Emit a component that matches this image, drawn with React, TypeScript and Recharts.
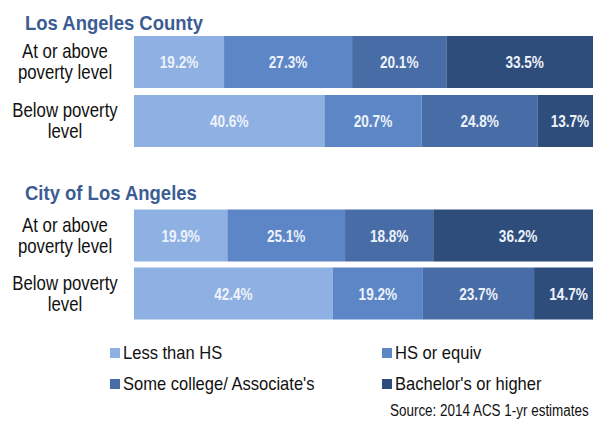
import React from "react";
import { BarChart, Bar, XAxis, YAxis, LabelList, Legend } from "recharts";

// education levels (series) and their colours
const levels = ["Less than HS", "HS or equiv", "Some college/ Associate's", "Bachelor's or higher"];
const levelKeys = ["lessHS", "hsEquiv", "someCollege", "bachelors"];
const colors = ["#8eb0e2", "#5c86c6", "#476ca6", "#2f4d7a"];

// row categories
const rowLabels = ["At or above\npoverty level", "Below poverty\nlevel"];

// Los Angeles County
const countyAbove = [19.2, 27.3, 20.1, 33.5];
const countyBelow = [40.6, 20.7, 24.8, 13.7];

// City of Los Angeles
const cityAbove = [19.9, 25.1, 18.8, 36.2];
const cityBelow = [42.4, 19.2, 23.7, 14.7];

const groupTitles = ["Los Angeles County", "City of Los Angeles"];
const sourceNote = "Source: 2014 ACS 1-yr estimates";

const toRows = (above: number[], below: number[]) =>
  [above, below].map((vals, i) => {
    const row: any = { row: rowLabels[i] };
    levelKeys.forEach((k, j) => (row[k] = vals[j]));
    return row;
  });

const countyData = toRows(countyAbove, countyBelow);
const cityData = toRows(cityAbove, cityBelow);

const FONT = "'Liberation Sans', Arial, sans-serif";

const RowTick = (props: any) => {
  const { y, payload } = props;
  const lines = String(payload.value).split("\n");
  return (
    <g transform={`translate(65,${y}) scale(0.84,1)`}>
      <text textAnchor="middle" fontSize={20} fill="#111" fontFamily={FONT}>
        <tspan x={0} dy={-4}>{lines[0]}</tspan>
        <tspan x={0} dy={21}>{lines[1]}</tspan>
      </text>
    </g>
  );
};

const SegLabel = (props: any) => {
  const { x, y, width, height, value } = props;
  const cx = x + width / 2;
  const cy = y + height / 2;
  return (
    <g transform={`translate(${cx},${cy}) scale(0.8,1)`}>
      <text
        textAnchor="middle"
        dominantBaseline="central"
        fontSize={17}
        fontWeight="bold"
        fill="#eef3fb"
        fontFamily={FONT}
      >
        {`${value}%`}
      </text>
    </g>
  );
};

const LegendGrid = (props: any) => {
  const entries = [...(props.payload || [])].sort(
    (a: any, b: any) => levels.indexOf(a.value) - levels.indexOf(b.value)
  );
  const colX = [110, 382];
  return (
    <div style={{ position: "relative", width: 601, height: 60 }}>
      {entries.map((entry: any, i: number) => (
        <div
          key={entry.value}
          style={{
            position: "absolute",
            left: colX[i % 2],
            top: Math.floor(i / 2) * 31,
            height: 20,
            display: "flex",
            alignItems: "center",
          }}
        >
          <span style={{ width: 10, height: 10, background: entry.color, marginRight: 3 }} />
          <span
            style={{
              fontSize: 19,
              fontFamily: FONT,
              color: "#111",
              transform: "scaleX(0.87)",
              transformOrigin: "left center",
              whiteSpace: "nowrap",
            }}
          >
            {entry.value}
          </span>
        </div>
      ))}
    </div>
  );
};

const bars = () =>
  levelKeys.map((k, j) => (
    <Bar
      key={k}
      dataKey={k}
      name={levels[j]}
      stackId="edu"
      fill={colors[j]}
      barSize={52}
      isAnimationActive={false}
    >
      <LabelList dataKey={k} content={<SegLabel />} />
    </Bar>
  ));

const Title = ({ text, top }: { text: string; top: number }) => (
  <div
    style={{
      position: "absolute",
      left: 25,
      top,
      fontSize: 21,
      lineHeight: "21px",
      fontWeight: "bold",
      color: "#3b5d93",
      fontFamily: FONT,
      transform: "scaleX(0.88)",
      transformOrigin: "left center",
      whiteSpace: "nowrap",
    }}
  >
    {text}
  </div>
);

export default function App() {
  return (
    <div
      style={{
        position: "relative",
        width: 601,
        height: 427,
        margin: -8,
        overflow: "hidden",
        background: "#fff",
        fontFamily: FONT,
      }}
    >
      <Title text={groupTitles[0]} top={12} />
      <Title text={groupTitles[1]} top={182} />

      <div style={{ position: "absolute", left: 0, top: 0 }}>
        <BarChart
          width={603}
          height={160}
          layout="vertical"
          data={countyData}
          margin={{ top: 32, right: 0, bottom: 10, left: 0 }}
          barCategoryGap={3}
        >
          <XAxis type="number" domain={[0, 100]} hide allowDataOverflow />
          <YAxis
            type="category"
            dataKey="row"
            width={134}
            axisLine={false}
            tickLine={false}
            tick={<RowTick />}
          />
          {bars()}
        </BarChart>
      </div>

      <div style={{ position: "absolute", left: 0, top: 175 }}>
        <BarChart
          width={603}
          height={252}
          layout="vertical"
          data={cityData}
          margin={{ top: 31.5, right: 0, bottom: 104.5, left: 0 }}
          barCategoryGap={3}
        >
          <XAxis type="number" domain={[0, 100]} hide allowDataOverflow />
          <YAxis
            type="category"
            dataKey="row"
            width={134}
            axisLine={false}
            tickLine={false}
            tick={<RowTick />}
          />
          {bars()}
          <Legend
            layout="horizontal"
            verticalAlign="middle"
            align="center"
            wrapperStyle={{ top: 168, left: 0, width: 601 }}
            content={<LegendGrid />}
          />
        </BarChart>
      </div>

      <div
        style={{
          position: "absolute",
          left: 390,
          top: 403,
          fontSize: 16,
          lineHeight: "16px",
          color: "#111",
          fontFamily: FONT,
          transform: "scaleX(0.84)",
          transformOrigin: "left center",
          whiteSpace: "nowrap",
        }}
      >
        {sourceNote}
      </div>
    </div>
  );
}
